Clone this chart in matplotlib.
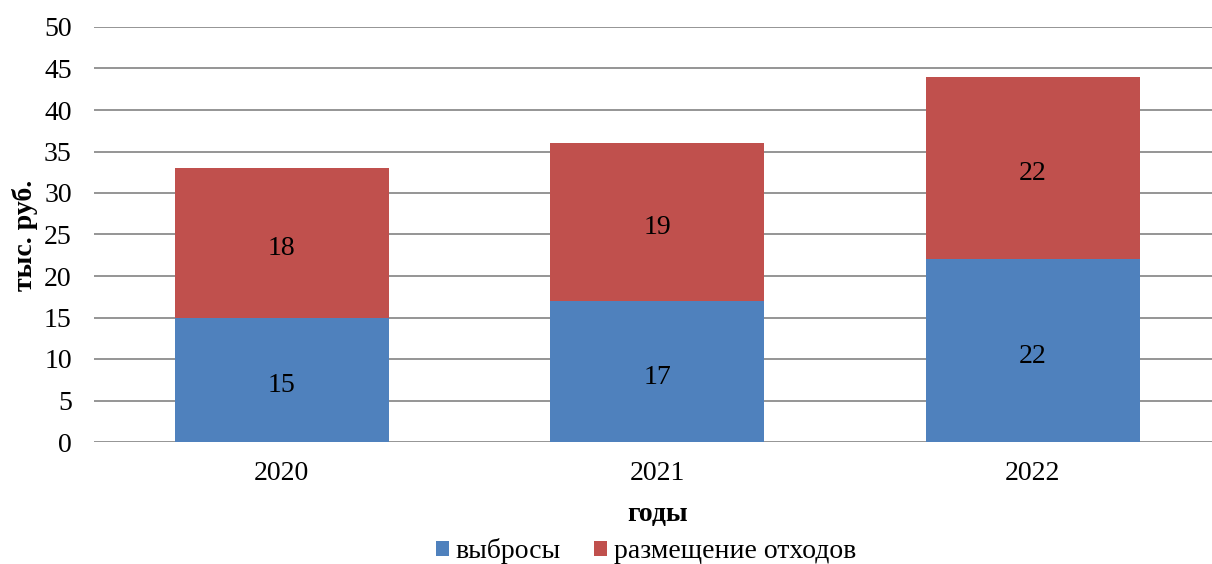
import matplotlib
matplotlib.use("Agg")
import matplotlib.pyplot as plt
import numpy as np

years = ["2020", "2021", "2022"]
emissions = [15, 17, 22]
waste = [18, 19, 22]
series_names = ["выбросы", "размещение отходов"]
colors = ["#4F81BD", "#C0504D"]

plt.rcParams['font.family'] = ['Liberation Serif', 'DejaVu Serif']
FS = 20

fig = plt.figure(figsize=(12.12, 5.64), dpi=100)
ax = fig.add_axes([94/1212, 1-442/564, 1126.5/1212, 415/564])

x = np.arange(len(years))
w = 0.57
b1 = ax.bar(x, emissions, w, color=colors[0], label=series_names[0], zorder=3)
b2 = ax.bar(x, waste, w, bottom=emissions, color=colors[1], label=series_names[1], zorder=3)

for i in range(len(years)):
    ax.annotate(str(emissions[i]), (x[i], emissions[i]/2), xytext=(0, -4), textcoords='offset points',
                ha='center', va='center', fontsize=FS, zorder=4)
    ax.annotate(str(waste[i]), (x[i], emissions[i] + waste[i]/2), xytext=(0, -4), textcoords='offset points',
                ha='center', va='center', fontsize=FS, zorder=4)

ax.set_xlim(-0.5, 2.5)
ax.set_ylim(0, 50)
ax.set_yticks(range(0, 51, 5))
ax.yaxis.grid(True, color='#8c8c8c', linewidth=1.3, zorder=0)
ax.set_axisbelow(True)
for s in ax.spines.values():
    s.set_visible(False)
ax.tick_params(axis='both', length=0, labelsize=FS)
ax.tick_params(axis='y', pad=16)
ax.tick_params(axis='x', pad=14)
ax.set_xticks(x)
ax.set_xticklabels(years)

fig.text(25/1212, 1-235/564, "тыс. руб.", rotation=90, ha='center', va='center', fontsize=FS, fontweight='bold')
fig.text(658/1212, 1-515/564, "годы", ha='center', va='center', fontsize=FS, fontweight='bold')

fig.legend(handles=[b1, b2], labels=series_names, loc='center', bbox_to_anchor=(646/1212, 1-551/564),
           ncol=2, frameon=False, fontsize=FS, handlelength=0.45, handleheight=0.45,
           handletextpad=0.25, columnspacing=1.2)

fig.savefig("out.png", dpi=100)
